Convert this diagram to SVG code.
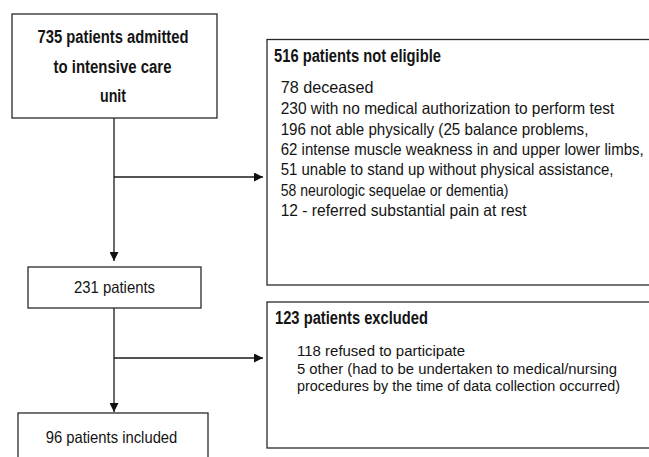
<svg xmlns="http://www.w3.org/2000/svg" width="649" height="457" viewBox="0 0 649 457">
<style>
.box{fill:#fff;stroke:#2a2a2a;stroke-width:1.3}
.conn{stroke:#1a1a1a;stroke-width:1.3;fill:none}
text{font-family:"Liberation Sans Narrow","Arial Narrow","Liberation Sans",Arial,sans-serif;fill:#141414}
.b{font-weight:bold;font-size:17.5px}
.n{font-size:16.5px}
.s{font-size:15.5px}
.c{text-anchor:middle}
</style>
<defs>
<marker id="ah" markerUnits="userSpaceOnUse" markerWidth="9" markerHeight="9" refX="9" refY="4.5" orient="auto">
<path d="M0,0 L9,4.5 L0,9 z" fill="#111"/>
</marker>
</defs>
<rect width="649" height="457" fill="#fff"/>
<g id="connectors">
<line class="conn" x1="114" y1="118" x2="114" y2="261" marker-end="url(#ah)"/>
<line class="conn" x1="114" y1="177" x2="263" y2="177" marker-end="url(#ah)"/>
<line class="conn" x1="114" y1="308" x2="114" y2="412" marker-end="url(#ah)"/>
<line class="conn" x1="114" y1="358" x2="263" y2="358" marker-end="url(#ah)"/>
</g>
<g id="admitted">
<rect class="box" x="12" y="14" width="205" height="104"/>
<text class="b c" x="113" y="42.7" textLength="151" lengthAdjust="spacingAndGlyphs">735 patients admitted</text>
<text class="b c" x="112.5" y="72.7" textLength="118" lengthAdjust="spacingAndGlyphs">to intensive care</text>
<text class="b c" x="113" y="101.7" textLength="26" lengthAdjust="spacingAndGlyphs">unit</text>
</g>
<g id="not-eligible">
<rect class="box" x="267" y="39.5" width="400" height="245.5"/>
<text class="b" x="274" y="62" textLength="167" lengthAdjust="spacingAndGlyphs">516 patients not eligible</text>
<text class="n" x="280.7" y="93.3" textLength="92.7" lengthAdjust="spacingAndGlyphs">78 deceased</text>
<text class="n" x="280.7" y="114" textLength="333.7" lengthAdjust="spacingAndGlyphs">230 with no medical authorization to perform test</text>
<text class="n" x="280.7" y="134.5" textLength="307.7" lengthAdjust="spacingAndGlyphs">196 not able physically (25 balance problems,</text>
<text class="n" x="280.7" y="155" textLength="363" lengthAdjust="spacingAndGlyphs">62 intense muscle weakness in and upper lower limbs,</text>
<text class="n" x="280.7" y="175.3" textLength="332.7" lengthAdjust="spacingAndGlyphs">51 unable to stand up without physical assistance,</text>
<text class="n" x="280.7" y="195.7" textLength="227.7" lengthAdjust="spacingAndGlyphs">58 neurologic sequelae or dementia)</text>
<text class="n" x="280.7" y="216" textLength="246" lengthAdjust="spacingAndGlyphs">12 - referred substantial pain at rest</text>
</g>
<g id="patients231">
<rect class="box" x="28" y="267" width="173" height="41"/>
<text class="n c" x="114.5" y="292.7" textLength="81" lengthAdjust="spacingAndGlyphs">231 patients</text>
</g>
<g id="excluded">
<rect class="box" x="267" y="302" width="400" height="146"/>
<text class="b" x="275" y="324" textLength="153" lengthAdjust="spacingAndGlyphs">123 patients excluded</text>
<text class="s" x="297" y="356" textLength="168" lengthAdjust="spacingAndGlyphs">118 refused to participate</text>
<text class="s" x="297" y="373.5" textLength="320" lengthAdjust="spacingAndGlyphs">5 other (had to be undertaken to medical/nursing</text>
<text class="s" x="297" y="391" textLength="323" lengthAdjust="spacingAndGlyphs">procedures by the time of data collection occurred)</text>
</g>
<g id="included">
<rect class="box" x="18" y="413" width="190" height="60"/>
<text class="n c" x="111.5" y="443.3" textLength="131.7" lengthAdjust="spacingAndGlyphs">96 patients included</text>
</g>
</svg>
